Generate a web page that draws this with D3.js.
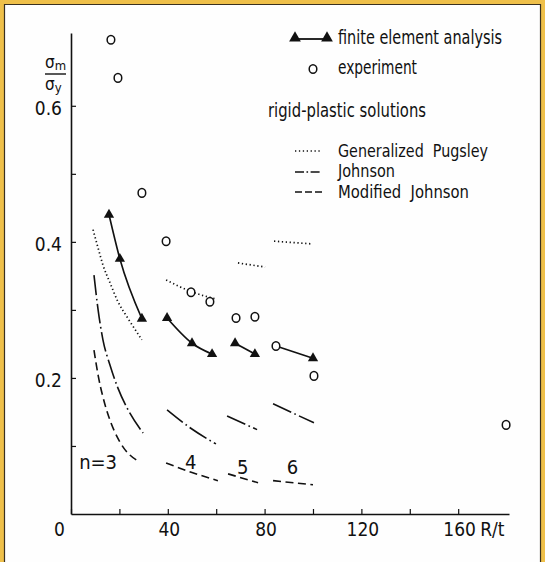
<!DOCTYPE html>
<html><head><meta charset="utf-8">
<script src="https://cdn.jsdelivr.net/npm/d3@7"></script>
<style>
html,body{margin:0;padding:0;background:#fff;}
svg{display:block;}
text{font-family:"Liberation Sans Narrow","DejaVu Sans Condensed","Arial Narrow",sans-serif;fill:#111;}
</style></head>
<body>
<script>
// ---------- DATA ----------
const nValues = [3, 4, 5, 6];

// finite element analysis (R/t, sigma_m/sigma_y)
const feaR = [[15.7, 20.2, 29.3], [39.7, 50.0, 58.3], [67.8, 76.0], [84.7, 100.0]];
const feaS = [[0.440, 0.375, 0.287], [0.288, 0.251, 0.235], [0.251, 0.235], [0.247, 0.229]];

// experiment
const expR = [16.5, 19.4, 29.3, 39.3, 49.6, 57.4, 68.2, 76.0, 84.7, 100.4, 179.8];
const expS = [0.697, 0.641, 0.472, 0.401, 0.326, 0.312, 0.288, 0.290, 0.247, 0.203, 0.131];

// rigid-plastic solutions: Generalized Pugsley
const pugR = [[9.1, 11.2, 13.2, 16.1, 19.4, 23.1, 29.3], [39.3, 49.6, 59.9], [69.0, 80.2], [83.9, 99.6]];
const pugS = [[0.418, 0.391, 0.366, 0.340, 0.312, 0.290, 0.256], [0.344, 0.327, 0.316], [0.369, 0.363], [0.401, 0.397]];

// Johnson
const johR = [[9.5, 11.2, 13.2, 16.1, 19.4, 23.6, 29.8], [39.7, 49.5, 59.9], [64.5, 76.9], [83.5, 100.4]];
const johS = [[0.351, 0.300, 0.256, 0.219, 0.185, 0.153, 0.119], [0.153, 0.126, 0.103], [0.144, 0.124], [0.162, 0.134]];

// Modified Johnson
const modR = [[9.5, 11.2, 13.2, 16.1, 20.2, 28.5], [39.3, 50.0, 60.7], [64.9, 77.3], [83.5, 100.0]];
const modS = [[0.241, 0.204, 0.172, 0.138, 0.106, 0.076], [0.075, 0.061, 0.049], [0.059, 0.046], [0.049, 0.043]];

const xTicks = [0, 20, 40, 60, 80, 100, 120, 140, 160];
const xTickLabels = ["0", "", "40", "", "80", "", "120", "", "160"];
const yTicks = [0.1, 0.2, 0.3, 0.4, 0.5, 0.6];
const yTickLabels = ["", "0.2", "", "0.4", "", "0.6"];
const xTitle = "R/t";
const nLabels = ["n=3", "4", "5", "6"];
const legendLabels = ["finite element analysis", "experiment", "rigid-plastic solutions",
  "Generalized  Pugsley", "Johnson", "Modified  Johnson"];

// ---------- DRAW ----------
const W = 545, H = 562;
const svg = d3.select("body").append("svg").attr("width", W).attr("height", H);

// frame
svg.append("rect").attr("x", 0).attr("y", 0).attr("width", W).attr("height", H).attr("fill", "#efc04a");
svg.append("rect").attr("x", 5).attr("y", 5).attr("width", W - 10).attr("height", H - 5).attr("fill", "#fefefe");
svg.append("path").attr("d", `M4.5,${H} V4.5 H${W - 4.5} V${H}`).attr("fill", "none").attr("stroke", "#3a3020").attr("stroke-width", 1.2);

const x = d3.scaleLinear().domain([0, 181]).range([71, 509]);
const y = d3.scaleLinear().domain([0, 0.707]).range([514, 33]);

const FS = 19;

// x axis
const xAxis = d3.axisBottom(x).tickValues(xTicks).tickSizeInner(-5).tickSizeOuter(0)
  .tickPadding(9).tickFormat((d, i) => xTickLabels[i]);
const gx = svg.append("g").attr("transform", `translate(0,${y(0)})`).call(xAxis);
gx.select(".domain").attr("stroke", "#111").attr("stroke-width", 1.6);
gx.selectAll(".tick line").attr("stroke", "#111").attr("stroke-width", 1.2);
gx.selectAll(".tick text").attr("font-size", FS).attr("font-family", null)
  .attr("dx", d => d === 0 ? -12 : 1);
svg.append("text").attr("x", x(160) + 22).attr("y", y(0) + 9).attr("dy", "0.71em")
  .attr("font-size", FS).text(xTitle);

// y axis
const yAxis = d3.axisLeft(y).tickValues(yTicks).tickSizeInner(-5).tickSizeOuter(0)
  .tickPadding(9).tickFormat((d, i) => yTickLabels[i]);
const gy = svg.append("g").attr("transform", `translate(${x(0)},0)`).call(yAxis);
gy.select(".domain").attr("stroke", "#111").attr("stroke-width", 1.6);
gy.selectAll(".tick line").attr("stroke", "#111").attr("stroke-width", 1.2);
gy.selectAll(".tick text").attr("font-size", FS).attr("font-family", null).attr("dy", "0.45em");

// y title: sigma_m / sigma_y
const yt = svg.append("g");
const t1 = yt.append("text").attr("x", 45).attr("y", 68).attr("font-size", 17);
t1.append("tspan").text("σ");
t1.append("tspan").attr("font-size", 13).attr("dy", 1.5).text("m");
yt.append("line").attr("x1", 45).attr("x2", 66).attr("y1", 74).attr("y2", 74)
  .attr("stroke", "#111").attr("stroke-width", 1.4);
const t2 = yt.append("text").attr("x", 45).attr("y", 90).attr("font-size", 17);
t2.append("tspan").text("σ");
t2.append("tspan").attr("font-size", 13).attr("dy", 1.5).text("y");

// line generator
const line = d3.line().x(d => x(d[0])).y(d => y(d[1])).curve(d3.curveMonotoneX);
const zip = (a, b) => a.map((v, i) => [v, b[i]]);

const styles = {
  pug: { dash: "1.3,2.6", w: 1.7 },
  joh: { dash: "20,3.5,1.6,3.5", w: 1.6 },
  mod: { dash: "8,4.5", w: 1.6 }
};
function drawFamily(R, S, st) {
  R.forEach((r, k) => {
    svg.append("path").attr("d", line(zip(r, S[k]))).attr("fill", "none")
      .attr("stroke", "#111").attr("stroke-width", st.w).attr("stroke-dasharray", st.dash);
  });
}
drawFamily(pugR, pugS, styles.pug);
drawFamily(johR, johS, styles.joh);
drawFamily(modR, modS, styles.mod);

// FEA lines
feaR.forEach((r, k) => {
  svg.append("path").attr("d", line(zip(r, feaS[k]))).attr("fill", "none")
    .attr("stroke", "#111").attr("stroke-width", 1.7);
});
const tri = d3.symbol().type(d3.symbolTriangle).size(46);
feaR.forEach((r, k) => {
  r.forEach((rv, i) => {
    const sv = feaS[k][i];
    const hidden = expR.some((er, j) => Math.abs(er - rv) < 0.5 && Math.abs(expS[j] - sv) < 0.005);
    if (hidden) return;
    svg.append("path").attr("d", tri()).attr("transform", `translate(${x(rv)},${y(sv)})`).attr("fill", "#111");
  });
});

// experiment circles
expR.forEach((r, i) => {
  svg.append("ellipse").attr("cx", x(r)).attr("cy", y(expS[i])).attr("rx", 3.8).attr("ry", 4.3)
    .attr("fill", "#fff").attr("stroke", "#111").attr("stroke-width", 1.5);
});

// n labels
const nPos = [[11.2, 0.076], [49.5, 0.077], [71.0, 0.069], [91.5, 0.069]];
nLabels.forEach((t, i) => {
  svg.append("text").attr("x", x(nPos[i][0])).attr("y", y(nPos[i][1])).attr("dy", "0.36em")
    .attr("text-anchor", "middle").attr("font-size", 20).text(t);
});

// legend
const lg = svg.append("g");
lg.append("line").attr("x1", 295).attr("x2", 327).attr("y1", 39).attr("y2", 39).attr("stroke", "#111").attr("stroke-width", 1.8);
[295, 327].forEach(px => lg.append("path").attr("d", d3.symbol().type(d3.symbolTriangle).size(60)())
  .attr("transform", `translate(${px},38)`).attr("fill", "#111"));
lg.append("ellipse").attr("cx", 313).attr("cy", 69).attr("rx", 3.8).attr("ry", 4.3)
  .attr("fill", "#fff").attr("stroke", "#111").attr("stroke-width", 1.5);
[["pug", 151], ["joh", 172], ["mod", 192]].forEach(([k, yy]) => {
  const dash = k === "joh" ? "9,2.5,1.6,2.5" : (k === "mod" ? "7,3" : styles[k].dash);
  lg.append("line").attr("x1", 295).attr("x2", 322).attr("y1", yy).attr("y2", yy)
    .attr("stroke", "#111").attr("stroke-width", 1.6).attr("stroke-dasharray", dash);
});
const legendPos = [[338, 44, 164, 19.5], [338, 74, 79, 19.5], [268, 117, 158, 19.5],
  [338, 156.5, 150, 17], [338, 177, 57, 17], [338, 198, 131, 17]];
legendLabels.forEach((t, i) => {
  lg.append("text").attr("x", legendPos[i][0]).attr("y", legendPos[i][1]).attr("font-size", legendPos[i][3])
    .attr("xml:space", "preserve").style("white-space", "pre")
    .attr("textLength", legendPos[i][2]).attr("lengthAdjust", "spacingAndGlyphs").text(t);
});
</script>
</body></html>
